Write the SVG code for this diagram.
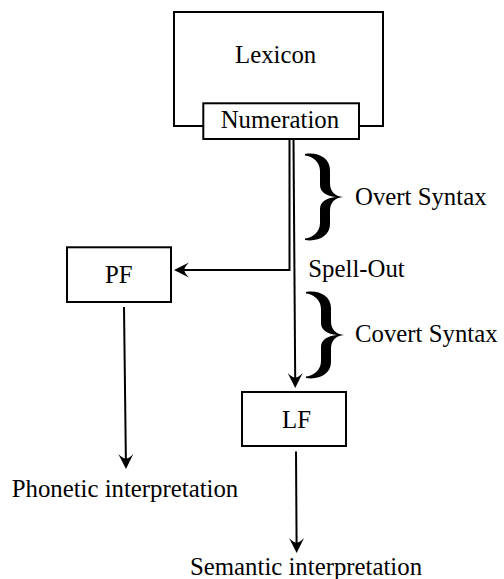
<svg xmlns="http://www.w3.org/2000/svg" width="504" height="579" viewBox="0 0 504 579">
  <style>
    .box { fill: #fff; stroke: #000; stroke-width: 2; }
    .conn { fill: none; stroke: #000; stroke-width: 2; }
    .lbl { font-family: 'Liberation Serif', 'DejaVu Serif', 'Times New Roman', serif; font-size: 24.8px; fill: #000; }
    .brace { fill: #000; stroke: none; }
  </style>
  <defs>
    <marker id="ah" viewBox="-16 -8 17 16" refX="-8" refY="0" markerWidth="17" markerHeight="16" orient="auto" markerUnits="userSpaceOnUse">
      <path d="M0,0 L-15,-7.5 Q-10,-2.5 -10.5,0 Q-10,2.5 -15,7.5 Z" fill="#000"/>
    </marker>
    <path id="brace" d="M0,-43 C13,-45 25,-39 25,-27 L25,-14 C25,-5 30,-1 38,0 C30,1 25,5 25,14 L25,27 C25,39 13,45 0,43 L0,41.5 C8,40.5 15,35 15,26 L15,12 C15,5 21,1 31,0 C21,-1 15,-5 15,-12 L15,-26 C15,-35 8,-40.5 0,-41.5 Z"/>
  </defs>
  <rect x="0" y="0" width="504" height="579" fill="#fff"/>

  <g id="lexicon">
    <rect class="box" x="174" y="12" width="209" height="114"/>
    <text class="lbl" x="235" y="63" font-family="Liberation Serif, serif">Lexicon</text>
  </g>
  <g id="numeration">
    <rect class="box" x="203.3" y="103.3" width="155.7" height="35.7"/>
    <text class="lbl" x="220.7" y="128.3">Numeration</text>
  </g>
  <g id="pf">
    <rect class="box" x="67" y="247.3" width="104" height="54.7"/>
    <text class="lbl" x="105" y="283">PF</text>
  </g>
  <g id="lf">
    <rect class="box" x="242" y="392" width="104" height="54"/>
    <text class="lbl" x="282" y="428.3">LF</text>
  </g>
  <g id="phonetic">
    <text class="lbl" x="11.7" y="496.5">Phonetic interpretation</text>
  </g>
  <g id="semantic">
    <text class="lbl" x="190" y="575.3">Semantic interpretation</text>
  </g>
  <g id="overt-syntax">
    <use href="#brace" class="brace" transform="translate(305,197)"/>
    <text class="lbl" x="355" y="205">Overt Syntax</text>
  </g>
  <g id="spell-out">
    <text class="lbl" x="308.3" y="276.5">Spell-Out</text>
  </g>
  <g id="covert-syntax">
    <use href="#brace" class="brace" transform="translate(306,335)"/>
    <text class="lbl" x="355" y="341.7">Covert Syntax</text>
  </g>

  <g id="connectors">
    <path class="conn" d="M289.5,139 V270 H182" marker-end="url(#ah)"/>
    <path class="conn" d="M293.5,139 L295.2,380" marker-end="url(#ah)"/>
    <path class="conn" d="M124,307 L125.9,461" marker-end="url(#ah)"/>
    <path class="conn" d="M296,451.5 L296.6,545" marker-end="url(#ah)"/>
  </g>
</svg>
